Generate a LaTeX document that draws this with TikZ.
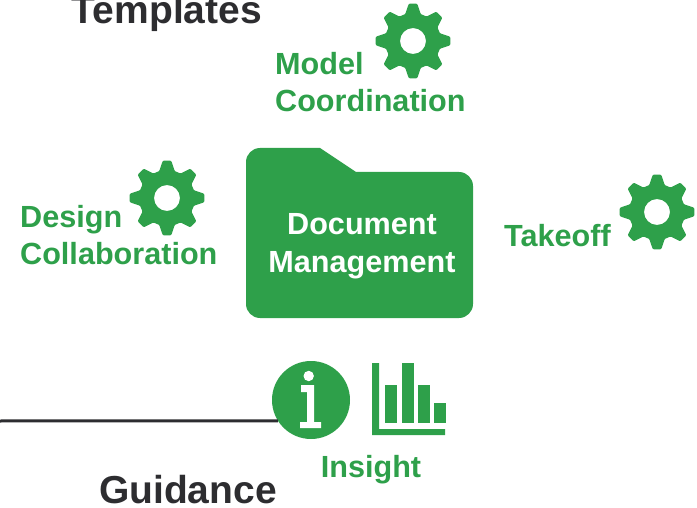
\documentclass[tikz,border=0pt]{standalone}
\usepackage{fontspec}
\setmainfont{Liberation Sans}
\usepackage{tikz}
\usetikzlibrary{calc}
\definecolor{leaf}{RGB}{46,160,74}
\definecolor{ink}{RGB}{45,45,48}
\tikzset{l/.style={font=\bfseries\fontsize{30.6}{37.5}\selectfont,text=leaf,inner sep=0pt,align=left}}
\tikzset{m/.style={font=\bfseries\fontsize{39}{39}\selectfont,text=ink,inner sep=0pt}}
\tikzset{gear/.pic={
  \fill[leaf,even odd rule,rounded corners=1pt]
    (6.5:37.5) -- (16:28) -- (29:28) -- (38.5:37.5) -- (51.5:37.5) -- (61:28) -- (74:28) -- (83.5:37.5)
    -- (96.5:37.5) -- (106:28) -- (119:28) -- (128.5:37.5) -- (141.5:37.5) -- (151:28) -- (164:28) -- (173.5:37.5)
    -- (186.5:37.5) -- (196:28) -- (209:28) -- (218.5:37.5) -- (231.5:37.5) -- (241:28) -- (254:28) -- (263.5:37.5)
    -- (276.5:37.5) -- (286:28) -- (299:28) -- (308.5:37.5) -- (321.5:37.5) -- (331:28) -- (344:28) -- (353.5:37.5)
    -- cycle (0,0) circle (13);
}}

\begin{document}
\begin{tikzpicture}[x=1pt,y=-1pt]
        \useasboundingbox (0,0) rectangle (697,508);
        \fill[leaf] (320,148) -- (260,148) .. controls (252.3,148) and (246,154.3) .. (246,162)
          -- (246,304) .. controls (246,311.7) and (252.3,318) .. (260,318)
          -- (459,318) .. controls (466.7,318) and (473,311.7) .. (473,304)
          -- (473,186) .. controls (473,178.3) and (466.7,172) .. (459,172)
          -- (356,172) -- cycle;
        \node (folder) at (362,246) [l,text=white,align=center] {Document\\Management};
        \node (templates) at (167,13) [m] {Templates};
        \node (guidance) at (188,490) [m] {Guidance};
        \node (model) at (275,82) [l,anchor=west] {Model\\Coordination};
        \node (design) at (20,235) [l,anchor=west] {Design\\Collaboration};
        \node (takeoff) at (504,236) [l,anchor=west] {Takeoff};
        \node (insight) at (371,470) [l] {Insight};
        \pic at (413,41) {gear};
        \pic at (167,198) {gear};
        \pic at (657,212) {gear};
        \node (info) at (311,400) [circle,fill=leaf,minimum size=78pt,inner sep=0pt] {};
        \coordinate (linestart) at (0,421);
        \draw[ink,line width=3pt] (linestart) -- (info.212.6);
        % i inside the circle
        \fill[white] (308.7,376) circle (5.2);
        \fill[white] (301,385) -- (314,385) -- (314,422) -- (321,422) -- (321,428) -- (300,428) -- (300,422) -- (307,422) -- (307,392) -- (301,392) -- cycle;
        % chart
        \fill[leaf] (372,363) -- (379,363) -- (379,429) -- (445,429) -- (445,435) -- (372,435) -- cycle;
        \fill[leaf] (385,385) rectangle (397,423);
        \fill[leaf] (402,363) rectangle (414,423);
        \fill[leaf] (418,385) rectangle (430,423);
        \fill[leaf] (434,403) rectangle (446,423);
      \end{tikzpicture}
\end{document}
